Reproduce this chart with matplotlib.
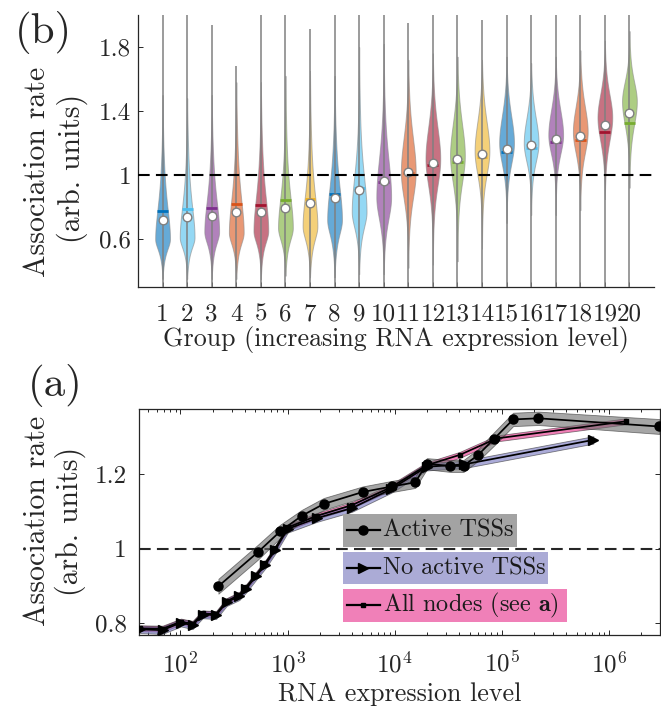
import numpy as np
import matplotlib
matplotlib.use("Agg")
import matplotlib.pyplot as plt
from matplotlib.patches import Rectangle
from matplotlib.lines import Line2D
from matplotlib.ticker import LogLocator, NullFormatter

plt.rcParams['font.family'] = 'serif'
plt.rcParams['font.serif'] = ['cmr10']
plt.rcParams['mathtext.fontset'] = 'cm'
plt.rcParams['axes.formatter.use_mathtext'] = True

# ---------------- data: association rate per expression group ----------------
groups = list(range(1, 21))
group_mean = [0.772, 0.785, 0.791, 0.816, 0.810, 0.841, 0.853, 0.884, 0.919, 0.959,
              1.014, 1.064, 1.083, 1.112, 1.143, 1.169, 1.205, 1.219, 1.269, 1.324]
group_median = [0.721, 0.735, 0.744, 0.769, 0.766, 0.795, 0.822, 0.855, 0.909, 0.961,
                1.019, 1.076, 1.101, 1.132, 1.163, 1.188, 1.223, 1.246, 1.310, 1.386]
# density shape of each group: peak position, spread below / above, tail weight, support
density_peak = [0.60, 0.61, 0.645, 0.64, 0.65, 0.67, 0.68, 0.72, 0.77, 0.86,
                1.02, 1.10, 1.12, 1.15, 1.20, 1.20, 1.25, 1.27, 1.36, 1.46]
spread_low = [0.10, 0.10, 0.11, 0.11, 0.11, 0.12, 0.13, 0.14, 0.15, 0.20,
              0.24, 0.24, 0.24, 0.21, 0.19, 0.17, 0.17, 0.19, 0.21, 0.21]
spread_high = [0.30, 0.30, 0.30, 0.32, 0.32, 0.30, 0.30, 0.32, 0.33, 0.35,
               0.31, 0.29, 0.29, 0.27, 0.25, 0.23, 0.23, 0.23, 0.21, 0.18]
tail_weight = [1, 1, 1, 1, 1, 1, 1, 1, 1.5, 2, 3, 3, 3, 3, 3, 3, 3, 3, 3, 3]
support_low = [0.35, 0.35, 0.35, 0.35, 0.35, 0.37, 0.36, 0.36, 0.38, 0.38,
               0.42, 0.44, 0.46, 0.54, 0.70, 0.75, 0.75, 0.78, 0.85, 0.92]
support_high = [1.50, 1.48, 1.50, 1.58, 1.58, 1.62, 1.65, 1.62, 1.80, 1.82,
                1.72, 1.76, 1.74, 1.72, 1.74, 1.70, 1.74, 1.78, 1.84, 1.90]
whisker_low = [0.25] * 20
whisker_high = [2.10, 2.10, 1.94, 1.68, 2.10, 2.10, 1.91, 2.10, 2.10, 2.10,
                1.947, 2.10, 2.10, 1.97, 2.10, 2.10, 2.10, 2.10, 2.10, 2.10]

# ---------------- data: association rate vs RNA expression ----------------
active_x = [226, 526, 851, 1355, 2175, 5020, 9440, 15560, 19950, 33000, 43950,
            60300, 84900, 127600, 219600, 2960000]
active_y = [0.899, 0.990, 1.046, 1.088, 1.120, 1.152, 1.167, 1.178, 1.228, 1.222,
            1.222, 1.252, 1.295, 1.347, 1.350, 1.328]
active_err = [0.020, 0.020, 0.018, 0.016, 0.016, 0.015, 0.015, 0.015, 0.015, 0.016,
              0.016, 0.016, 0.018, 0.018, 0.018, 0.020]

inactive_x = [42, 68, 101, 130, 161, 215, 270, 355, 410, 508, 621, 770, 1003,
              1884, 4000, 9290, 19950, 43950, 716000]
inactive_y = [0.783, 0.781, 0.801, 0.794, 0.823, 0.821, 0.856, 0.872, 0.892, 0.926,
              0.957, 0.997, 1.053, 1.082, 1.109, 1.160, 1.220, 1.226, 1.292]
inactive_err = [0.010] * len(inactive_x)

all_x = [42, 68, 101, 130, 161, 215, 270, 355, 410, 508, 621, 770, 1003,
         1884, 4000, 9290, 19950, 40700, 89700, 1450000]
all_y = [0.786, 0.785, 0.804, 0.798, 0.826, 0.824, 0.859, 0.876, 0.896, 0.930,
         0.961, 1.001, 1.057, 1.088, 1.117, 1.165, 1.224, 1.252, 1.296, 1.342]
all_err = [0.008] * len(all_x)

palette = [(0.000, 0.447, 0.741), (0.301, 0.745, 0.933), (0.494, 0.184, 0.556),
           (0.850, 0.325, 0.098), (0.635, 0.078, 0.184), (0.466, 0.674, 0.188),
           (0.929, 0.694, 0.125)]
grey = (0.5, 0.5, 0.5)

W, H = 661, 709
fig = plt.figure(figsize=(W / 100, H / 100), dpi=100)


def fbox(x0, y0, x1, y1):
    """pixel box (top-left origin) -> figure fraction rect"""
    return [x0 / W, 1 - y1 / H, (x1 - x0) / W, (y1 - y0) / H]


TICK = 18
LABEL = 18.7
YLABEL = 21.5

# ================= panel (b): violins =================
axb = fig.add_axes(fbox(138, 15, 654, 287))
for i, g in enumerate(groups):
    col = palette[i % len(palette)]
    v = np.linspace(support_low[i], support_high[i], 500)
    d = v - density_peak[i]
    k = tail_weight[i]

    def shape(delta, a):
        return (1 + (delta / a) ** 2 / k) ** (-k)

    f = np.where(d < 0, shape(d, spread_low[i]), shape(d, spread_high[i]))
    f_lo = shape(support_low[i] - density_peak[i], spread_low[i])
    f_hi = shape(support_high[i] - density_peak[i], spread_high[i])
    f = np.where(d < 0, (f - f_lo) / (1 - f_lo), (f - f_hi) / (1 - f_hi))
    hw = 0.3 * np.clip(f, 0, None)
    axb.fill_betweenx(v, g - hw, g + hw, facecolor=col, alpha=0.6,
                      edgecolor=(0.55, 0.55, 0.55, 0.6), linewidth=0.7, zorder=2)
    axb.plot([g, g], [whisker_low[i], whisker_high[i]], color=grey, lw=1.1,
             zorder=3, solid_capstyle='butt')
    axb.plot([g - 0.22, g + 0.22], [group_mean[i]] * 2, color=col, lw=2.0, zorder=4,
             solid_capstyle='butt')
    axb.plot(g, group_median[i], 'o', mfc='white', mec=grey, mew=1.0, ms=6.2, zorder=5)

axb.axhline(1.0, color='black', lw=1.5, ls=(0, (5.6, 3.0)), zorder=6)
axb.set_xlim(0, 21)
axb.set_ylim(0.3, 2.0)
axb.set_xticks(groups)
axb.set_xticklabels([str(g) for g in groups])
axb.set_yticks([0.6, 1.0, 1.4, 1.8])
axb.set_yticklabels(['0.6', '1', '1.4', '1.8'])
for s in ('top', 'right'):
    axb.spines[s].set_visible(False)
for s in ('left', 'bottom'):
    axb.spines[s].set_linewidth(0.9)
    axb.spines[s].set_color('#262626')
axb.tick_params(direction='in', length=3.5, width=0.7, labelsize=TICK, colors='#262626')
axb.tick_params(axis='x', pad=12)
axb.tick_params(axis='y', pad=5)

fig.text(396 / W, 1 - 346 / H, 'Group (increasing RNA expression level)', ha='center',
         va='baseline', fontsize=LABEL, color='#262626')
fig.text(37 / W, 1 - 172 / H, 'Association rate', rotation=90, ha='center', va='center',
         fontsize=YLABEL, color='#262626')
fig.text(72 / W, 1 - 168 / H, '(arb. units)', rotation=90, ha='center', va='center',
         fontsize=YLABEL, color='#262626')
fig.text(43 / W, 1 - 32 / H, '(b)', ha='center', va='center', fontsize=31, color='#262626')

# ================= panel (a): expression curves =================
axa = fig.add_axes(fbox(139, 409, 660, 635))
axa.set_xscale('log')

series = [
    (all_x, all_y, all_err, (0.90, 0.17, 0.53), 's', 3.0),
    (inactive_x, inactive_y, inactive_err, (0.45, 0.45, 0.75), '>', 6.5),
    (active_x, active_y, active_err, (0.42, 0.42, 0.42), 'o', 6.5),
]
for xs, ys, es, col, mk, ms in series:
    xs = np.asarray(xs, float)
    ys = np.asarray(ys, float)
    es = np.asarray(es, float)
    axa.fill_between(xs, ys - es, ys + es, facecolor=col, alpha=0.6,
                     edgecolor=(0.2, 0.2, 0.2, 0.45), linewidth=0.6, zorder=2)
    axa.plot(xs, ys, color='black', lw=1.25, marker=mk, ms=ms, mfc='black', mec='black',
             zorder=3)

axa.axhline(1.0, color='#262626', lw=1.5, ls=(0, (5.6, 3.0)), zorder=1)
axa.set_xlim(41, 3.0e6)
axa.set_ylim(0.768, 1.375)
axa.set_yticks([0.8, 1.0, 1.2])
axa.set_yticklabels(['0.8', '1', '1.2'])
axa.xaxis.set_major_locator(LogLocator(base=10, numticks=12))
axa.xaxis.set_minor_locator(LogLocator(base=10, subs=np.arange(2, 10), numticks=12))
axa.xaxis.set_minor_formatter(NullFormatter())
for s in axa.spines.values():
    s.set_linewidth(0.9)
    s.set_color('#262626')
axa.tick_params(which='both', direction='in', top=True, right=True, width=0.7,
                labelsize=TICK, colors='#262626')
axa.tick_params(which='major', length=3.8)
axa.tick_params(which='minor', length=2.2)
axa.tick_params(axis='x', which='major', pad=12)
axa.tick_params(axis='y', which='major', pad=9)

# legend built from coloured text boxes
legend_rows = [
    ('Active TSSs', (0.64, 0.64, 0.64), 'o', 6.5, 0.3916, 0.7255, 0.3907, 0.5354),
    ('No active TSSs', (0.67, 0.67, 0.84), '>', 6.5, 0.3916, 0.7856, 0.2243, 0.3686),
    (r'All nodes (see $\mathbf{a}$)', (0.94, 0.50, 0.72), 's', 3.0, 0.3916, 0.8209, 0.0588, 0.2035),
]
for label, fc, mk, ms, x0, x1, y0, y1 in legend_rows:
    axa.add_patch(Rectangle((x0, y0), x1 - x0, y1 - y0, transform=axa.transAxes,
                            facecolor=fc, edgecolor='none', zorder=5))
    yc = (y0 + y1) / 2
    axa.add_line(Line2D([0.3987, 0.4626], [yc, yc], transform=axa.transAxes, color='black',
                        lw=1.6, zorder=6))
    axa.add_line(Line2D([0.4306], [yc], transform=axa.transAxes, color='black', marker=mk,
                        ms=ms, lw=0, zorder=6))
    axa.text(0.4689, yc, label, transform=axa.transAxes, ha='left', va='center',
             fontsize=17.4, color='#1a1a1a', zorder=7)

fig.text(400 / W, 1 - 701 / H, 'RNA expression level', ha='center', va='baseline',
         fontsize=LABEL, color='#262626')
fig.text(37 / W, 1 - 521 / H, 'Association rate', rotation=90, ha='center', va='center',
         fontsize=YLABEL, color='#262626')
fig.text(70 / W, 1 - 521 / H, '(arb. units)', rotation=90, ha='center', va='center',
         fontsize=YLABEL, color='#262626')
fig.text(55 / W, 1 - 385 / H, '(a)', ha='center', va='center', fontsize=31, color='#262626')

fig.savefig('out.png', dpi=100)
